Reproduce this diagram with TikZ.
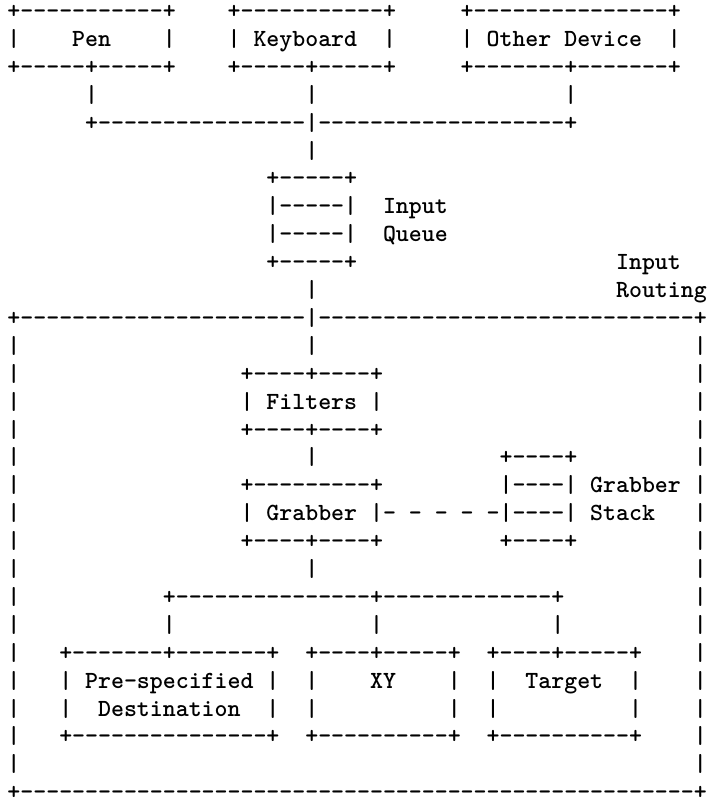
\documentclass[tikz,border=0pt]{standalone}
\usepackage{tikz}
\usetikzlibrary{positioning}
\newlength\chw
\newlength\chmeas
\setlength\chw{9.7125pt}
\AtBeginDocument{%
  \settowidth\chmeas{\fontsize{20pt}{20pt}\ttfamily\bfseries M}%
  \pgfmathsetmacro\asciipt{20*9.7125/\chmeas}%
  \xdef\asciipt{\asciipt}}
\newcommand\asciifont{\fontsize{\asciipt pt}{\asciipt pt}\ttfamily\bfseries}
\newcommand\skipc[1]{\hspace*{#1\chw}}
\newcommand\dashc[1]{\foreach\ri in {1,...,#1}{-\kern0pt}}
\tikzset{
  asciirow/.style={anchor=base west,inner sep=0pt,outer sep=0pt,font=\asciifont},
  nextrow/.style={below=20.925pt of #1.base west,anchor=base west}
}

\begin{document}
\begin{tikzpicture}[x=0.75pt,y=-0.75pt]
  % one monospace cell is 12.95px wide
  \useasboundingbox (0,0) rectangle (710,804);
  % devices
  \node[asciirow] (row01) at (7.5,18.5) {+\dashc{11}+\skipc{4}+\dashc{11}+\skipc{5}+\dashc{15}+};
  \node[asciirow,nextrow=row01] (row02) {|\skipc{4}Pen\skipc{4}|\skipc{4}|\skipc{1}Keyboard\skipc{2}|\skipc{5}|\skipc{1}Other\skipc{1}Device\skipc{2}|};
  \node[asciirow,nextrow=row02] (row03) {+\dashc{5}+\dashc{5}+\skipc{4}+\dashc{5}+\dashc{5}+\skipc{5}+\dashc{7}+\dashc{7}+};
  \node[asciirow,nextrow=row03] (row04) {\skipc{6}|\skipc{16}|\skipc{19}|};
  \node[asciirow,nextrow=row04] (row05) {\skipc{6}+\dashc{16}|\dashc{19}+};
  \node[asciirow,nextrow=row05] (row06) {\skipc{23}|};
  % input queue
  \node[asciirow,nextrow=row06] (row07) {\skipc{20}+\dashc{5}+};
  \node[asciirow,nextrow=row07] (row08) {\skipc{20}|\dashc{5}|\skipc{2}Input};
  \node[asciirow,nextrow=row08] (row09) {\skipc{20}|\dashc{5}|\skipc{2}Queue};
  \node[asciirow,nextrow=row09] (row10) {\skipc{20}+\dashc{5}+\skipc{20}Input};
  \node[asciirow,nextrow=row10] (row11) {\skipc{23}|\skipc{23}Routing};
  % input routing
  \node[asciirow,nextrow=row11] (row12) {+\dashc{22}|\dashc{29}+};
  \node[asciirow,nextrow=row12] (row13) {|\skipc{22}|\skipc{29}|};
  \node[asciirow,nextrow=row13] (row14) {|\skipc{17}+\dashc{4}+\dashc{4}+\skipc{24}|};
  \node[asciirow,nextrow=row14] (row15) {|\skipc{17}|\skipc{1}Filters\skipc{1}|\skipc{24}|};
  \node[asciirow,nextrow=row15] (row16) {|\skipc{17}+\dashc{4}+\dashc{4}+\skipc{24}|};
  \node[asciirow,nextrow=row16] (row17) {|\skipc{22}|\skipc{14}+\dashc{4}+\skipc{9}|};
  \node[asciirow,nextrow=row17] (row18) {|\skipc{17}+\dashc{9}+\skipc{9}|\dashc{4}|\skipc{1}Grabber\skipc{1}|};
  \node[asciirow,nextrow=row18] (row19) {|\skipc{17}|\skipc{1}Grabber\skipc{1}|-\skipc{1}-\skipc{1}-\skipc{1}-\skipc{1}-|\dashc{4}|\skipc{1}Stack\skipc{3}|};
  \node[asciirow,nextrow=row19] (row20) {|\skipc{17}+\dashc{4}+\dashc{4}+\skipc{9}+\dashc{4}+\skipc{9}|};
  \node[asciirow,nextrow=row20] (row21) {|\skipc{22}|\skipc{29}|};
  \node[asciirow,nextrow=row21] (row22) {|\skipc{11}+\dashc{15}+\dashc{13}+\skipc{10}|};
  \node[asciirow,nextrow=row22] (row23) {|\skipc{11}|\skipc{15}|\skipc{13}|\skipc{10}|};
  % destinations
  \node[asciirow,nextrow=row23] (row24) {|\skipc{3}+\dashc{7}+\dashc{7}+\skipc{2}+\dashc{4}+\dashc{5}+\skipc{2}+\dashc{4}+\dashc{5}+\skipc{4}|};
  \node[asciirow,nextrow=row24] (row25) {|\skipc{3}|\skipc{1}Pre-specified\skipc{1}|\skipc{2}|\skipc{4}XY\skipc{4}|\skipc{2}|\skipc{2}Target\skipc{2}|\skipc{4}|};
  \node[asciirow,nextrow=row25] (row26) {|\skipc{3}|\skipc{2}Destination\skipc{2}|\skipc{2}|\skipc{10}|\skipc{2}|\skipc{10}|\skipc{4}|};
  \node[asciirow,nextrow=row26] (row27) {|\skipc{3}+\dashc{15}+\skipc{2}+\dashc{10}+\skipc{2}+\dashc{10}+\skipc{4}|};
  \node[asciirow,nextrow=row27] (row28) {|\skipc{52}|};
  \node[asciirow,nextrow=row28] (row29) {+\dashc{52}+};
\end{tikzpicture}
\end{document}
